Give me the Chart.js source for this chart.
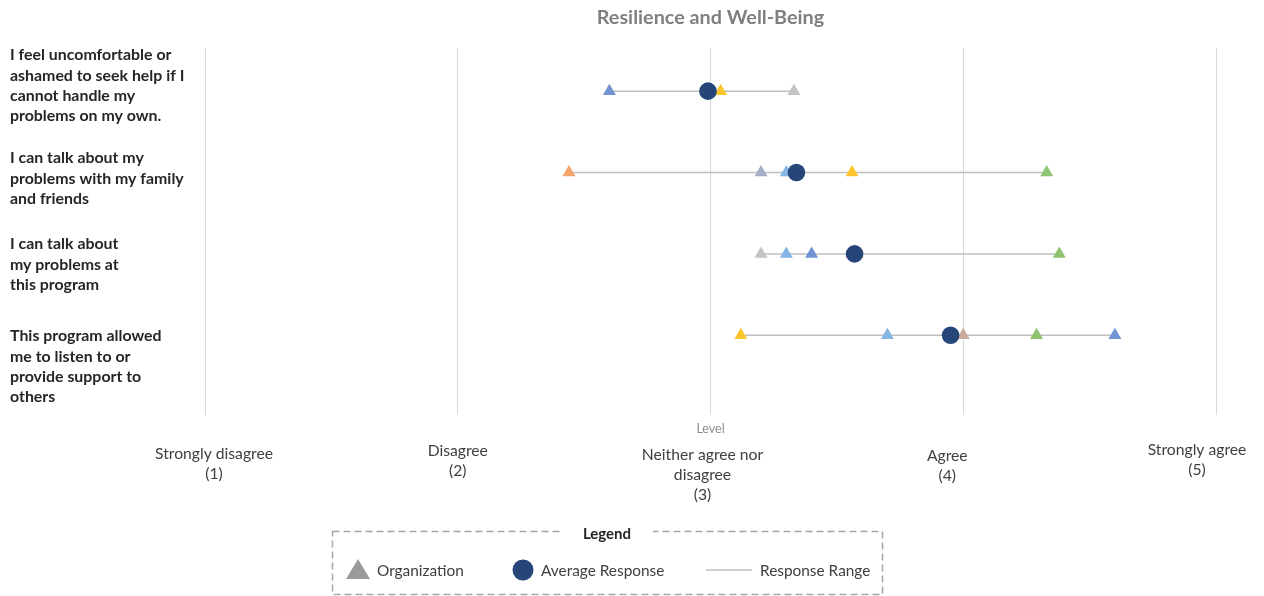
<!DOCTYPE html>
<html>
<head>
<meta charset="utf-8">
<script src="https://cdn.jsdelivr.net/npm/chart.js@4.4.1/dist/chart.umd.min.js"></script>
<style>
  html, body { margin: 0; padding: 0; background: #fff; overflow: hidden; }
  #wrap { width: 1264px; height: 596px; position: relative; }
</style>
</head>
<body>
<div id="wrap"><canvas id="c"></canvas></div>
<script>
// ---- data ----
const chartTitle = "Resilience and Well-Being";
const axisTitle = "Level";
const statements = [
  ["I feel uncomfortable or", "ashamed to seek help if I", "cannot handle my", "problems on my own."],
  ["I can talk about my", "problems with my family", "and friends"],
  ["I can talk about", "my problems at", "this program"],
  ["This program allowed", "me to listen to or", "provide support to", "others"]
];
const rowPositions = [4, 3, 2, 1];
const levelValues = [1, 2, 3, 4, 5];
const levelLabels = [
  ["Strongly disagree", "(1)"],
  ["Disagree", "(2)"],
  ["Neither agree nor", "disagree", "(3)"],
  ["Agree", "(4)"],
  ["Strongly agree", "(5)"]
];
const averageResponse = [2.99, 3.34, 3.57, 3.95];

// organization scores per statement (null = no responses)
const orgA = [2.60, null, 3.40, 4.60];
const orgB = [null, 3.30, 3.30, 3.70];
const orgC = [3.33, null, 3.20, null];
const orgD = [3.04, 3.56, 3.58, 3.12];
const orgE = [null, 2.44, 3.56, null];
const orgF = [null, 4.33, 4.38, 4.29];
const orgG = [null, 3.20, null, null];
const orgH = [null, null, null, 4.00];

const organizations = [
  { name: "Organization A", scores: orgA, color: "#6f93d3" },
  { name: "Organization B", scores: orgB, color: "#84b5e3" },
  { name: "Organization C", scores: orgC, color: "#c3c3c3" },
  { name: "Organization D", scores: orgD, color: "#fdc52c" },
  { name: "Organization E", scores: orgE, color: "#f4a46c" },
  { name: "Organization F", scores: orgF, color: "#8ec46f" },
  { name: "Organization G", scores: orgG, color: "#a4adc4" },
  { name: "Organization H", scores: orgH, color: "#c8ad9c" }
];

const RANGE_COLOR = "#bfbfbf";
const AVG_COLOR = "#26467a";
const TEXT_DARK = "#262626";
const TEXT_MID = "#404040";

// ---- datasets ----
const datasets = [];

// response range: from lowest to highest organization score per statement
statements.forEach((s, i) => {
  const vals = organizations.map(o => o.scores[i]).filter(v => v !== null);
  datasets.push({
    type: "line",
    label: "Response Range",
    data: [{ x: Math.min(...vals), y: rowPositions[i] }, { x: Math.max(...vals), y: rowPositions[i] }],
    borderColor: RANGE_COLOR,
    borderWidth: 1.5,
    pointRadius: 0,
    showLine: true,
    order: 3
  });
});

organizations.forEach(o => {
  datasets.push({
    type: "scatter",
    label: o.name,
    data: o.scores.map((v, i) => v === null ? null : { x: v, y: rowPositions[i] }).filter(p => p),
    pointStyle: "triangle",
    pointRadius: 7.5,
    pointBackgroundColor: o.color,
    pointBorderColor: o.color,
    pointBorderWidth: 0,
    order: 2
  });
});

datasets.push({
  type: "scatter",
  label: "Average Response",
  data: averageResponse.map((v, i) => ({ x: v, y: rowPositions[i] })),
  pointStyle: "circle",
  pointRadius: 8.8,
  pointBackgroundColor: AVG_COLOR,
  pointBorderColor: AVG_COLOR,
  pointBorderWidth: 0,
  order: 1
});

// ---- text and legend drawn on the canvas ----
const annotate = {
  id: "annotate",
  afterDraw(chart) {
    const { ctx, chartArea: a, scales: { x } } = chart;
    ctx.save();
    ctx.textBaseline = "middle";

    // title
    ctx.textAlign = "center";
    ctx.fillStyle = "#7f7f7f";
    ctx.font = "bold 19.8px Lato";
    ctx.fillText(chartTitle, (a.left + a.right) / 2, 18);

    // axis title
    ctx.fillStyle = "#8c8c8c";
    ctx.font = "12.5px Lato";
    ctx.fillText(axisTitle, x.getPixelForValue(3), a.bottom + 14);

    // statement labels
    ctx.textAlign = "left";
    ctx.fillStyle = TEXT_DARK;
    ctx.font = "bold 15.9px Lato";
    const tops = [55, 158, 244, 336];
    statements.forEach((lines, i) => {
      lines.forEach((t, j) => ctx.fillText(t, 10, tops[i] + j * 20.4));
    });

    // level labels
    ctx.textAlign = "center";
    ctx.fillStyle = TEXT_MID;
    ctx.font = "15.7px Lato";
    const shiftX = [9, 0, -8, -16, -19];
    const firstY = [454, 451, 455, 456, 450];
    levelLabels.forEach((lines, i) => {
      const cx = x.getPixelForValue(levelValues[i]) + shiftX[i];
      lines.forEach((t, j) => ctx.fillText(t, cx, firstY[i] + j * 20));
    });

    // legend box
    const L = 332.5, R = 882.5, T = 531.5, B = 594.5;
    ctx.strokeStyle = "#a6a6a6";
    ctx.lineWidth = 1.5;
    ctx.setLineDash([7, 4]);
    ctx.strokeRect(L, T, R - L, B - T);
    ctx.setLineDash([]);
    ctx.fillStyle = "#ffffff";
    ctx.fillRect(563, T - 3, 90, 7);
    ctx.fillStyle = TEXT_DARK;
    ctx.font = "bold 15px Lato";
    ctx.fillText("Legend", 607, 534);

    const ly = 570;
    // triangle symbol
    ctx.fillStyle = "#9a9a9a";
    ctx.beginPath();
    ctx.moveTo(358, ly - 11);
    ctx.lineTo(370, ly + 9);
    ctx.lineTo(346, ly + 9);
    ctx.closePath();
    ctx.fill();
    // circle symbol
    ctx.fillStyle = AVG_COLOR;
    ctx.beginPath();
    ctx.arc(523, ly, 10.5, 0, Math.PI * 2);
    ctx.fill();
    // range symbol
    ctx.strokeStyle = RANGE_COLOR;
    ctx.lineWidth = 1.5;
    ctx.beginPath();
    ctx.moveTo(706, ly);
    ctx.lineTo(752, ly);
    ctx.stroke();

    ctx.textAlign = "left";
    ctx.fillStyle = TEXT_MID;
    ctx.font = "15.4px Lato";
    ctx.fillText("Organization", 377, ly + 1);
    ctx.fillText("Average Response", 541, ly + 1);
    ctx.fillText("Response Range", 760, ly + 1);

    ctx.restore();
  }
};

new Chart(document.getElementById("c"), {
  data: { datasets },
  options: {
    responsive: true,
    maintainAspectRatio: false,
    animation: false,
    layout: { padding: { left: 205, right: 48, top: 48, bottom: 181 } },
    plugins: { legend: { display: false }, tooltip: { enabled: false }, title: { display: false } },
    scales: {
      x: {
        type: "linear",
        min: 1,
        max: 5,
        afterBuildTicks: s => { s.ticks = levelValues.map(v => ({ value: v })); },
        afterFit: s => { s.height = 0; },
        grid: { color: "#d9d9d9", lineWidth: 1, drawTicks: false },
        border: { display: false },
        ticks: { display: false }
      },
      y: {
        type: "linear",
        min: 0.02,
        max: 4.53,
        display: false
      }
    }
  },
  plugins: [annotate]
});
</script>
</body>
</html>
